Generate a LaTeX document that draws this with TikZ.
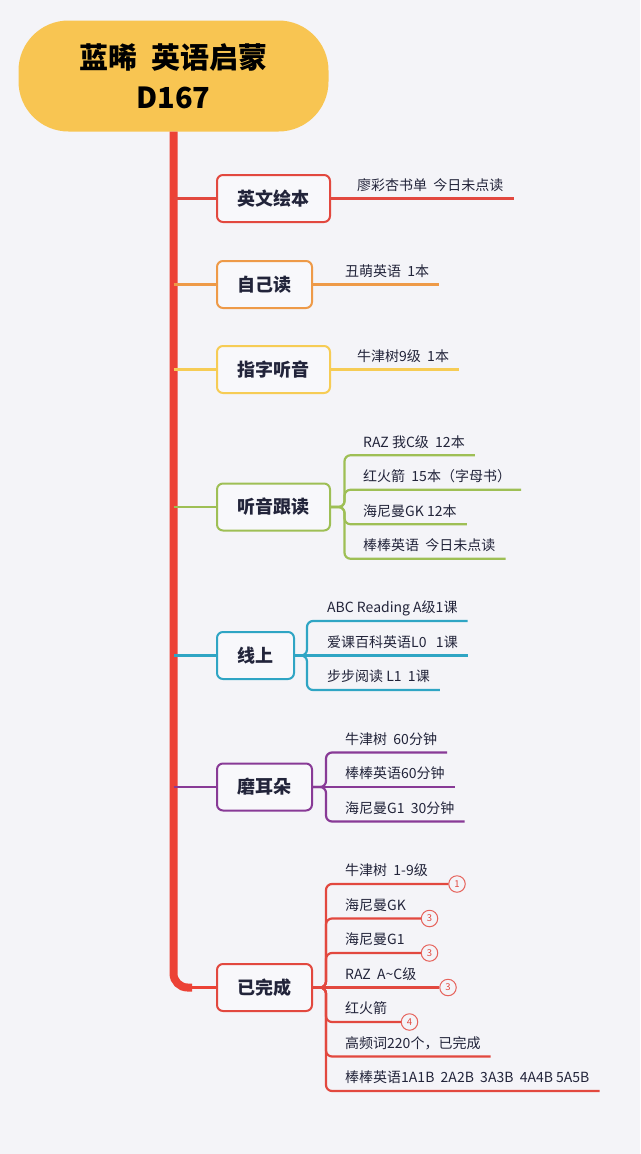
\documentclass[tikz,border=0pt]{standalone}
\usepackage{fontspec}
\setmainfont{Noto Sans CJK SC}

\definecolor{bgcol}{HTML}{F4F4F8}
\definecolor{boxcol}{HTML}{F8F8FB}
\definecolor{inkcol}{HTML}{22243A}
\definecolor{rootcol}{HTML}{F8C552}
\definecolor{trunkcol}{HTML}{EC4236}
\definecolor{redcol}{HTML}{E2483F}
\definecolor{orangecol}{HTML}{EE9A48}
\definecolor{yellowcol}{HTML}{F6CC55}
\definecolor{greencol}{HTML}{9EBF55}
\definecolor{bluecol}{HTML}{2FA5C4}
\definecolor{purplecol}{HTML}{883A96}

\tikzset{
  root/.style={fill=rootcol, rounded corners=50pt, minimum width=310pt, minimum height=111pt,
    align=center, text=black, font=\fontsize{29}{40}\selectfont\bfseries},
  topic/.style={draw=#1, line width=2pt, rounded corners=6pt, fill=boxcol, text=inkcol,
    font=\fontsize{18}{20}\selectfont\bfseries, minimum height=47pt, inner xsep=20.5pt, anchor=west},
  leaf/.style={anchor=south west, inner xsep=0pt, inner ysep=8pt, text depth=0pt, text=inkcol,
    font=\fontsize{14}{16}\selectfont},
  trunk/.style={draw=trunkcol, line width=8pt, rounded corners=14pt},
  branch/.style={draw=#1, line width=2.5pt},
  leafline/.style={draw=#1, line width=2.2pt, rounded corners=6pt},
  badge/.style={circle, draw=redcol!85, line width=1pt, fill=bgcol, minimum size=16.5pt, inner sep=0pt,
    text=redcol, font=\fontsize{9.5}{9.5}\selectfont},
}

\begin{document}
\begin{tikzpicture}[x=1pt, y=-1pt]
  \fill[bgcol] (0,0) rectangle (640,1154);
  \useasboundingbox (0,0) rectangle (640,1154);

  \node[root] (root) at (173.5,76) {蓝晞~~英语启蒙\\D167};

  % topics
  \node[topic=redcol] (eng) at (216,198.5) {英文绘本};
  \node[topic=orangecol] (self) at (216,284.5) {自己读};
  \node[topic=yellowcol] (point) at (216,369.5) {指字听音};
  \node[topic=greencol] (hear) at (216,507) {听音跟读};
  \node[topic=bluecol] (online) at (216,655.5) {线上};
  \node[topic=purplecol] (ears) at (216,787) {磨耳朵};
  \node[topic=redcol] (done) at (216,987.5) {已完成};

  % trunk
  \coordinate (elbow) at (192,987.5);
  \draw[trunk] (root.south) |- (elbow);
  \draw[branch=trunkcol] (elbow) -- (done.west);
  \foreach \t/\c in {eng/redcol, self/orangecol, point/yellowcol, hear/greencol, online/bluecol, ears/purplecol}
    \draw[branch=\c] (\t.west -| root.south) -- (\t.west);

  % single leaves
  \node[leaf] (eng1) at (357,198.5) {廖彩杏书单~~今日未点读};
  \node[leaf] (self1) at (345,284.5) {丑萌英语~~1本};
  \node[leaf] (point1) at (357,369.5) {牛津树9级~~1本};
  \draw[leafline=redcol] (eng.east) -- ([xshift=10pt]eng1.south east);
  \draw[leafline=orangecol] (self.east) -- ([xshift=10pt]self1.south east);
  \draw[leafline=yellowcol] (point.east) -- ([xshift=10pt]point1.south east);

  % listen and repeat
  \foreach \i/\dy/\txt in {1/-51.75/RAZ 我C级~~12本, 2/-17.25/红火箭~~15本（字母书）,
                           3/17.25/海尼曼GK 12本, 4/51.75/棒棒英语~~今日未点读} {
    \node[leaf] (hear\i) at (363,507+\dy) {\txt};
    \draw[leafline=greencol] (hear.east) -- ++(13.5,0) |- ([xshift=10pt]hear\i.south east);
  }

  % online
  \foreach \i/\dy/\txt in {1/-34.5/ABC Reading A级1课, 2/0/爱课百科英语L0~~~1课, 3/34.5/步步阅读 L1~~1课}
    \node[leaf] (online\i) at (327,655.5+\dy) {\txt};
  \foreach \i in {1,3}
    \draw[leafline=bluecol] (online.east) -- ++(12,0) |- ([xshift=10pt]online\i.south east);
  \draw[leafline=bluecol] (online.east) -- ([xshift=10pt]online2.south east);

  % background listening
  \foreach \i/\dy/\txt in {1/-34.5/牛津树~~60分钟, 2/0/棒棒英语60分钟, 3/34.5/海尼曼G1~~30分钟}
    \node[leaf] (ears\i) at (345,787+\dy) {\txt};
  \foreach \i in {1,3}
    \draw[leafline=purplecol] (ears.east) -- ++(13,0) |- ([xshift=10pt]ears\i.south east);
  \draw[leafline=purplecol] (ears.east) -- ([xshift=10pt]ears2.south east);

  % finished
  \foreach \i/\dy/\txt/\num/\bx in {1/-103.5/牛津树~~1-9级/1/457, 2/-69/海尼曼GK/3/429.5,
                                    3/-34.5/海尼曼G1/3/429.5, 4/0/RAZ~~A\textasciitilde C级/3/448,
                                    5/34.5/红火箭/4/409.5} {
    \node[leaf] (done\i) at (345,987.5+\dy) {\txt};
    \node[badge] (mark\i) at (\bx,987.5+\dy) {\num};
  }
  \foreach \i/\dy/\txt in {6/69/高频词220个，已完成, 7/103.5/棒棒英语1A1B~~2A2B~~3A3B~~4A4B~5A5B}
    \node[leaf] (done\i) at (345,987.5+\dy) {\txt};
  \foreach \i in {1,2,3,5}
    \draw[leafline=redcol] (done.east) -- ++(13,0) |- (mark\i.west);
  \draw[leafline=redcol] (done.east) -- (mark4.west);
  \foreach \i in {6,7}
    \draw[leafline=redcol] (done.east) -- ++(13,0) |- ([xshift=10pt]done\i.south east);
\end{tikzpicture}
\end{document}
